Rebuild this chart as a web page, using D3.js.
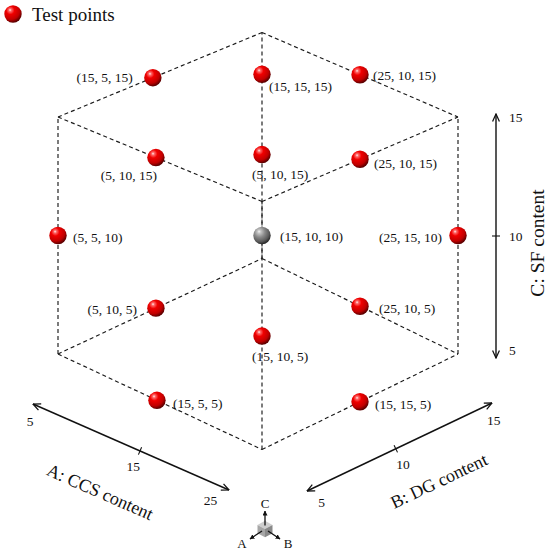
<!DOCTYPE html>
<html>
<head>
<meta charset="utf-8">
<script src="https://cdn.jsdelivr.net/npm/d3@7"></script>
<style>
  html, body { margin: 0; padding: 0; background: #fff; }
  svg { display: block; }
  text { font-family: "Liberation Serif", "Times New Roman", serif; fill: #111; }
</style>
</head>
<body>
<svg id="chart" width="550" height="554"></svg>
<script>
// ---------------- DATA ----------------
// Test point labels (A: CCS, B: DG, C: SF)
const labelA = [15, 15, 25, 5, 5, 25, 5, 15, 25, 5, 25, 15, 15, 15];
const labelB = [5, 15, 10, 10, 10, 10, 5, 10, 15, 10, 10, 10, 5, 15];
const labelC = [15, 15, 15, 15, 15, 15, 10, 10, 10, 5, 5, 5, 5, 5];
// Position of each ball in coded cube space (-1 .. 1), as drawn
const posA = [-1, -1, 0, -0.04, -1, 1, -1, 0, 1, -1, 0, 1, -0.03, 1];
const posB = [-0.07, 1, 1, -1, 1, 0, -1, 0, 1, -0.04, 1, -1, -1, 0];
const posC = [1, 0.63, 1, 1, -0.08, 1, 0, 0, 0, -1, -1, -0.085, -1, -1];
const pointKind = ["test","test","test","test","test","test","test","center","test","test","test","test","test","test"];
// Axis ticks
const ticksA = [5, 15, 25];
const ticksB = [5, 10, 15];
const ticksC = [5, 10, 15];
const axisTitles = ["A: CCS content", "B: DG content", "C: SF content"];
const legendText = "Test points";

// ---------------- LAYOUT ----------------
const svg = d3.select("#chart");
const defs = svg.append("defs");

function ballGradient(id, stops) {
  const g = defs.append("radialGradient").attr("id", id)
    .attr("cx", "38%").attr("cy", "32%").attr("r", "68%").attr("fx", "33%").attr("fy", "27%");
  stops.forEach(s => g.append("stop").attr("offset", s[0]).attr("stop-color", s[1]));
}
ballGradient("gRed", [[0, "#fff0f0"], [0.12, "#ff6a6a"], [0.35, "#f00000"], [0.75, "#c00000"], [1, "#5a0000"]]);
ballGradient("gGray", [[0, "#f4f4f4"], [0.15, "#c4c4c4"], [0.45, "#8a8a8a"], [0.8, "#5a5a5a"], [1, "#2a2a2a"]]);

// open chevron arrow
defs.append("marker").attr("id", "chev")
  .attr("viewBox", "0 0 10 10").attr("refX", 9.3).attr("refY", 5)
  .attr("markerWidth", 9).attr("markerHeight", 9).attr("markerUnits", "userSpaceOnUse")
  .attr("orient", "auto-start-reverse")
  .append("path").attr("d", "M1,1.2 L9.3,5 L1,8.8").attr("fill", "none").attr("stroke", "#111").attr("stroke-width", 1.4);
// small filled arrow for mini icon
defs.append("marker").attr("id", "tri")
  .attr("viewBox", "0 0 10 10").attr("refX", 9).attr("refY", 5)
  .attr("markerWidth", 5).attr("markerHeight", 5).attr("markerUnits", "userSpaceOnUse")
  .attr("orient", "auto")
  .append("path").attr("d", "M0,0 L10,5 L0,10 Z").attr("fill", "#111");

// projection scales of the coded cube
const xs = d3.scaleLinear().domain([-2, 0, 2]).range([58, 262, 458]); // a + b
const ys = d3.scaleLinear().domain([-1, 1]).range([354, 117]);        // c
const ks = d3.scaleLinear().domain([-1, 1]).range([47.75, 42.25]);    // slant per (a - b)
const proj = (a, b, c) => [xs(a + b), ys(c) + (a - b) * ks(c)];

// cube edges
const corners = [];
[-1, 1].forEach(a => [-1, 1].forEach(b => [-1, 1].forEach(c => corners.push([a, b, c]))));
const edges = [];
corners.forEach((p, i) => corners.forEach((q, j) => {
  if (j > i) {
    const diff = p.reduce((s, v, k) => s + (v !== q[k] ? 1 : 0), 0);
    if (diff === 1) edges.push([p, q]);
  }
}));
svg.append("g").selectAll("line").data(edges).join("line")
  .attr("x1", d => proj(...d[0])[0]).attr("y1", d => proj(...d[0])[1])
  .attr("x2", d => proj(...d[1])[0]).attr("y2", d => proj(...d[1])[1])
  .attr("stroke", "#1a1a1a").attr("stroke-width", 1.15).attr("stroke-dasharray", "4,3");

// points
const pts = posA.map((a, i) => {
  const p = proj(a, posB[i], posC[i]);
  return { x: p[0], y: p[1], kind: pointKind[i], label: `(${labelA[i]}, ${labelB[i]}, ${labelC[i]})` };
});
// label placement relative to ball: [anchor, dx, dy]
const labelLayout = [
  ["end", -20, 4], ["start", 7, 17], ["start", 13, 5], ["end", 1, 22], ["start", -10, 24],
  ["start", 14, 9], ["start", 15, 6], ["start", 18, 5], ["end", -16, 6], ["end", -19, 6],
  ["start", 19, 7], ["start", -10, 25], ["start", 16, 8], ["start", 15, 7]
];
const R = 8.7;
svg.append("g").selectAll("circle").data(pts).join("circle")
  .attr("cx", d => d.x).attr("cy", d => d.y).attr("r", R)
  .attr("fill", d => d.kind === "center" ? "url(#gGray)" : "url(#gRed)");
svg.append("g").selectAll("text").data(pts).join("text")
  .attr("x", (d, i) => d.x + labelLayout[i][1]).attr("y", (d, i) => d.y + labelLayout[i][2])
  .attr("text-anchor", (d, i) => labelLayout[i][0])
  .attr("font-size", 13.5).text(d => d.label);

// ---------------- AXES ----------------
function lerp(p0, p1, t) { return [p0[0] + (p1[0] - p0[0]) * t, p0[1] + (p1[1] - p0[1]) * t]; }
function drawAxis(p0, p1, scale, ticks, tickVals, labelOff, title, titlePos, titleRot, titleSize) {
  const g = svg.append("g");
  g.append("line").attr("x1", p0[0]).attr("y1", p0[1]).attr("x2", p1[0]).attr("y2", p1[1])
    .attr("stroke", "#111").attr("stroke-width", 1.4)
    .attr("marker-start", "url(#chev)").attr("marker-end", "url(#chev)");
  const dx = p1[0] - p0[0], dy = p1[1] - p0[1], L = Math.hypot(dx, dy);
  const nx = -dy / L, ny = dx / L;
  g.selectAll("line.tick").data(tickVals).join("line").attr("class", "tick")
    .attr("x1", d => lerp(p0, p1, scale(d))[0] - nx * 4).attr("y1", d => lerp(p0, p1, scale(d))[1] - ny * 4)
    .attr("x2", d => lerp(p0, p1, scale(d))[0] + nx * 4).attr("y2", d => lerp(p0, p1, scale(d))[1] + ny * 4)
    .attr("stroke", "#111").attr("stroke-width", 1.1);
  g.selectAll("text.tl").data(ticks).join("text").attr("class", "tl")
    .attr("x", d => lerp(p0, p1, scale(d))[0] + labelOff[0])
    .attr("y", d => lerp(p0, p1, scale(d))[1] + labelOff[1])
    .attr("text-anchor", labelOff[2]).attr("dominant-baseline", "central")
    .attr("font-size", 13.5).text(d => d);
  g.append("text").attr("transform", `translate(${titlePos[0]},${titlePos[1]}) rotate(${titleRot})`)
    .attr("text-anchor", "middle").attr("dominant-baseline", "central")
    .attr("font-size", titleSize).text(title);
}
const scaleA = d3.scaleLinear().domain([5, 15, 25]).range([0.02, 0.546, 0.94]);
const scaleB = d3.scaleLinear().domain([5, 10, 15]).range([0.04, 0.48, 0.97]);
const scaleC = d3.scaleLinear().domain([5, 10, 15]).range([0.03, 0.5, 0.984]);
const pA0 = [33, 404], pA1 = [229, 490];
const pB0 = [307, 491], pB1 = [492, 403];
const pC0 = [496, 358], pC1 = [496, 114];
drawAxis(pA0, pA1, scaleA, ticksA, [15], [-6.8, 15.6, "middle"], axisTitles[0], [100, 492],
  Math.atan2(pA1[1] - pA0[1], pA1[0] - pA0[0]) * 180 / Math.PI, 18);
drawAxis(pB0, pB1, scaleB, ticksB, [10], [7.3, 15.3, "middle"], axisTitles[1], [439, 481],
  Math.atan2(pB1[1] - pB0[1], pB1[0] - pB0[0]) * 180 / Math.PI, 18);
drawAxis(pC0, pC1, scaleC, ticksC, [10], [13, 0, "start"], axisTitles[2], [537, 243], -90, 19.5);

// ---------------- LEGEND ----------------
svg.append("circle").attr("cx", 13).attr("cy", 14).attr("r", R).attr("fill", "url(#gRed)");
svg.append("text").attr("x", 32).attr("y", 21).attr("font-size", 19).text(legendText);

// ---------------- MINI ORIENTATION ICON ----------------
const icon = svg.append("g").attr("transform", "translate(265,529)");
const s = 7.5, h = s * 0.55;
const faces = [
  { d: `M0,0 L${-s},${-h} L0,${-2 * h} L${s},${-h} Z`, f: "#c9c9c9" },
  { d: `M0,0 L${-s},${-h} L${-s},${-h + 2 * h} L0,${2 * h} Z`, f: "#9c9c9c" },
  { d: `M0,0 L${s},${-h} L${s},${-h + 2 * h} L0,${2 * h} Z`, f: "#7c7c7c" }
];
icon.selectAll("path.f").data(faces).join("path").attr("class", "f")
  .attr("d", d => d.d).attr("fill", d => d.f).attr("opacity", 0.9);
const iconAxes = [
  { to: [0, -18], lab: "C", lp: [0, -26] },
  { to: [-15, 10], lab: "A", lp: [-23, 14] },
  { to: [15, 10], lab: "B", lp: [23, 14] }
];
icon.selectAll("line.ax").data(iconAxes).join("line").attr("class", "ax")
  .attr("x1", d => d.to[0] * 0.2).attr("y1", d => d.to[1] * 0.2)
  .attr("x2", d => d.to[0]).attr("y2", d => d.to[1])
  .attr("stroke", "#111").attr("stroke-width", 1.3).attr("marker-end", "url(#tri)");
icon.selectAll("text").data(iconAxes).join("text")
  .attr("x", d => d.lp[0]).attr("y", d => d.lp[1])
  .attr("text-anchor", "middle").attr("dominant-baseline", "central")
  .attr("font-size", 13).text(d => d.lab);
</script>
</body>
</html>
